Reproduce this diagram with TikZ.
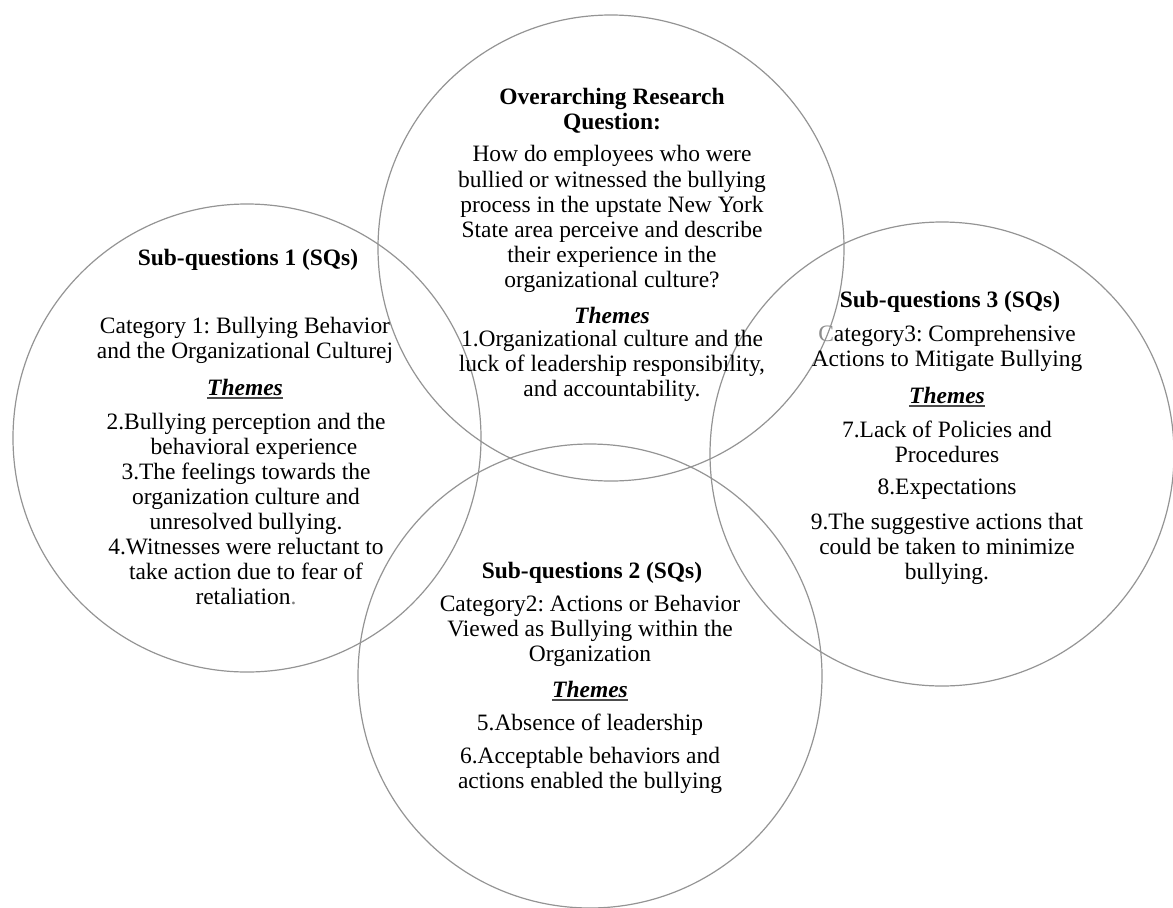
\documentclass[tikz,border=0pt]{standalone}
\usepackage{fontspec}
\setmainfont{Liberation Serif}
\frenchspacing
\begin{document}
\begin{tikzpicture}[x=0.75pt,y=-0.75pt,
  ring/.style={circle, draw=black!42, line width=0.9pt, inner sep=0pt},
  txt/.style={align=center, inner sep=0pt, font=\fontsize{17.6}{18.8}\selectfont},
  head/.style={txt, font=\fontsize{17.6}{18.8}\selectfont\bfseries},
  thm/.style={txt, font=\fontsize{17.6}{18.8}\selectfont\bfseries\itshape},
  uline/.style={draw=black!70, line width=1.5pt}]
\useasboundingbox (0,0) rectangle (1173,907);

% the four overlapping circles
\node[ring, minimum size=351pt] (sq1) at (247,438) {};
\node[ring, minimum size=349.5pt] (orq) at (611,248) {};
\node[ring, minimum size=348pt] (sq3) at (942,454) {};
\node[ring, minimum size=348pt] (sq2) at (590,676) {};

% overarching research question
\node[head] (orqh) at (612,111) {Overarching Research\\Question:};
\node[txt] (orqq) at (612,219) {How do employees who were\\bullied or witnessed the bullying\\process in the upstate New York\\State area perceive and describe\\their experience in the\\organizational culture?};
\node[thm] (orqt) at (612,315) {Themes};
\node[txt] (orqa) at (612,366) {1.Organizational culture and the\\luck of leadership responsibility,\\and accountability.};

% sub-questions 1
\node[head] (sq1h) at (248,260) {Sub-questions 1 (SQs)};
\node[txt] (sq1c) at (245,340.5) {Category 1: Bullying Behavior\\and the Organizational Culturej};
\node[thm] (sq1t) at (245,387) {Themes};
\draw[uline] ([yshift=-2.2pt]sq1t.south west) -- ([yshift=-2.2pt]sq1t.south east);
\node[txt] (sq1a) at (246,509) {2.Bullying perception and the\\\hspace*{12pt}behavioral experience\\3.The feelings towards the\\organization culture and\\unresolved bullying.\\4.Witnesses were reluctant to\\take action due to fear of\\retaliation\textcolor{black!50}{.}};

% sub-questions 3
\node[head] (sq3h) at (950,302) {Sub-questions 3 (SQs)};
\node[txt] (sq3c) at (947,348.5) {\textcolor{black!45}{C}ategory3: Comprehensive\\Actions to Mitigate Bullying};
\node[thm] (sq3t) at (947,395) {Themes};
\draw[uline] ([yshift=-2.2pt]sq3t.south west) -- ([yshift=-2.2pt]sq3t.south east);
\node[txt] (sq3a) at (947,442) {7.Lack of Policies and\\Procedures};
\node[txt] (sq3b) at (947,489) {8.Expectations};
\node[txt] (sq3d) at (947,548.5) {9.The suggestive actions that\\could be taken to minimize\\bullying.};

% sub-questions 2
\node[head] (sq2h) at (592,573) {Sub-questions 2 (SQs)};
\node[txt] (sq2c) at (590,631) {Category2: Actions or Behavior\\Viewed as Bullying within the\\Organization};
\node[thm] (sq2t) at (590,689) {Themes};
\draw[uline] ([yshift=-2.2pt]sq2t.south west) -- ([yshift=-2.2pt]sq2t.south east);
\node[txt] (sq2a) at (590,725) {5.Absence of leadership};
\node[txt] (sq2b) at (590,770.5) {6.Acceptable behaviors and\\actions enabled the bullying};
\end{tikzpicture}
\end{document}
